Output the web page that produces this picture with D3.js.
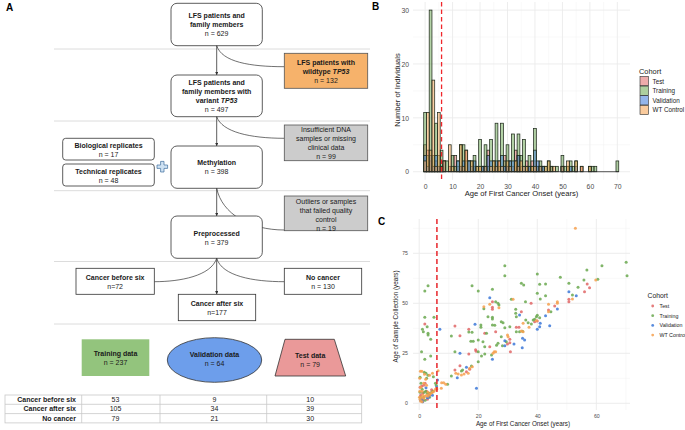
<!DOCTYPE html>
<html lang="en">
<head>
<meta charset="UTF-8">
<title>LFS cohort overview</title>
<script src="https://d3js.org/d3.v7.min.js"></script>
<style>
    body { margin: 0; background: #fff; font-family: "Liberation Sans", Arial, sans-serif; }
    .boxText { font-size: 7px; text-anchor: middle; fill: #1a1a1a; }
    .bold { font-weight: bold; }
    .panelLabel { font-size: 10px; font-weight: bold; }
    .tick text { fill: #4d4d4d; }
    .axisTitle { fill: #222; text-anchor: middle; }
</style>
</head>
<body>
<script>
const width = 685, height = 430;

// ---- data ----
const cohorts = ["Test", "Training", "Validation", "WT Control"];
const cohortColors = ["#e06666", "#6aa84f", "#3c78d8", "#f6a04d"];

// panel B: number of individuals per age of first cancer onset (ages 0..70)
const onsetAges = d3.range(0, 71);
const histTest = [5,4,2,1,2,1,1,0,0,1, 0,3,1,1,0,4,2,0,1,0, 1,1,0,4,0,1,0,2,0,3,
    1,0,1,4,3,1,0,2,1,2, 2,1,0,1,0,0,1,0,0,0, 1,0,1,0,0,0,0,1,0,0, 0,0,0,0,0,0,0,0,0,0,0];
const histTraining = [11,3,30,3,9,3,4,2,2,0, 3,1,2,5,5,2,2,2,3,1, 6,1,5,1,6,2,9,1,9,2,
    5,2,7,2,7,3,6,1,3,1, 8,1,2,1,1,2,1,0,1,0, 3,1,1,2,1,2,0,0,0,0, 1,1,1,0,0,0,0,0,0,0,2];
const histValidation = [3,1,3,1,3,1,1,2,0,0, 0,0,2,1,2,0,2,1,2,0, 0,1,1,3,2,0,2,0,3,1,
    1,2,2,0,3,0,1,0,1,0, 4,2,1,1,0,0,0,0,0,0, 1,0,0,1,0,1,0,0,0,0, 0,0,0,0,0,0,0,0,0,0,0];
const histWT = [2,11,4,17,1,11,1,2,0,5, 1,0,0,5,1,4,0,2,0,1, 1,0,1,0,1,2,1,2,1,0,
    2,1,0,2,1,2,1,1,0,1, 1,0,1,0,1,2,0,1,0,0, 1,0,2,0,0,2,0,1,0,0, 1,0,0,0,0,0,0,0,0,0,0];
const histTicksX = [0, 10, 20, 30, 40, 50, 60, 70];
const histTicksY = [0, 10, 20, 30];

// panel C: [age of first cancer onset, age of sample collection]
const scatterTest = [[1.9,39.7],[12.1,38.7],[13.8,33.8],[12.1,16.7],[13.8,18.8],[16,15.8],[17.1,17],
    [16.8,37],[16.8,24.7],[19.1,26.8],[19.3,26],[22.2,35],[24.8,50.8],[24.8,48],[24.8,47],[23.9,28.3],
    [25.9,35.8],[29.9,29.7],[30.7,32],[30.7,30.3],[30.9,25.8],[32.9,38],[33.8,38],[34.6,45.8],[39.1,40.8],
    [40,41.2],[37.9,50],[43.8,46.7],[45.9,48.7],[50.7,52],[50.7,50.8],[56,55.8],[56.9,59.7],[57.7,57.8],
    [0.3,8],[0.8,8.5],[1.5,9],[2,10],[1.2,5],[2.5,6],[3.5,4],[0.5,4],[4.2,6.8],[1.3,1.5],[2.8,2],[5.9,7]];
const scatterTraining = [[1.9,56.2],[3,58.8],[1.9,43],[5,43],[1.1,37],[1.4,35.8],[2.7,38.3],[3,35],[3,34.2],
    [3.9,32],[0.8,25.8],[1.9,22],[3.9,23.7],[0.3,13],[0.6,10],[1,7],[1.6,5.5],[2.2,6],[2.7,5],[3.2,5],[3.7,5],
    [4.2,5.5],[4.7,6],[1.7,15.5],[2.3,15],[3,14],[2.5,12.5],[4.8,13.3],[5.5,10],[0.4,3],[1.5,3],[2,1.5],
    [3.5,3],[5.8,9],[0.3,5.5],[9.6,9.5],[10.9,13.7],[10.9,33.7],[12.1,25.8],[14.3,16.2],[14.7,16.7],
    [17.7,18.7],[16.8,35.7],[17.9,35.5],[17.9,58.8],[17.5,31],[18.3,31],[20,56.2],[20,31.7],[20,25.8],
    [20,20.8],[20.9,39.2],[20.9,38],[21.1,23.7],[22.2,24.7],[22.8,35],[21.6,30.8],[22.2,28.3],[21.9,47.3],
    [23.3,43.3],[24.8,57],[24.8,43],[24.8,42.2],[24.8,39.2],[25.6,39],[25.9,50.8],[26.7,50],[27,49.2],
    [24.5,24.2],[26.2,29],[26.7,30],[27.8,40.8],[28.4,40.3],[29,68.8],[29,63.8],[29,37.8],[27.8,33.3],
    [28.2,28.8],[29.5,30.8],[30.7,38.3],[31.2,52],[32.7,47],[32.7,45],[32.9,43.3],[32.9,35.8],[34.6,60],
    [35.4,59.2],[36,50.8],[34,35.8],[36.1,41.7],[36.9,40.3],[38,39.7],[38.6,41.7],[39.1,42],[39.7,43.3],
    [40,44],[40,64.7],[40,55],[35,36],[40.8,59.5],[41,52.2],[42.8,59.7],[42.8,53.8],[40.8,42.8],[44.6,45.8],
    [47.8,63],[50.7,60],[51.9,54.2],[53.8,58],[55.8,61.7],[56.8,66.7],[60.5,62],[61.9,68.8],[70.1,70.5],[70.4,63.8]];
const scatterValidation = [[7,37],[13.8,25],[12.9,12.8],[16,18],[18.9,39.5],[19.4,7.5],[23.9,52.8],[24.8,22],
    [29,28.8],[29,31.3],[32.1,29.7],[34,44.2],[35,32.5],[35.7,31.7],[34.9,27.8],[40,37],[41,40],[40.8,38.3],
    [42.8,43.8],[44.2,38.8],[46.8,47.2],[50.7,55.8],[53.2,53.8],[0.5,1.5],[1.2,0.8],[2.8,2.8],[3.2,3.2],
    [4.5,4],[6.2,11.7],[2.3,7.8],[1,2],[5.9,8.2]];
const scatterWT = [[0.2,12.5],[0.4,16],[0.9,16],[1.5,10],[2.2,12],[2.5,9],[0.5,8],[1,6],[1.3,4],[0.3,2],
    [0.5,1],[0.8,3],[1.5,2.5],[2,3.5],[2.5,4],[3,3.5],[3.5,4.5],[4,5],[4.5,5.5],[5,6],[5.5,7],[4.5,15],
    [3.5,14],[1.8,14.5],[0.2,6],[0.1,3],[1,0.8],[3,5.5],[6.4,16.3],[5.9,7.5],[7.6,10.3],[8.3,10.3],[9,9.5],
    [7.5,7.5],[12.4,15],[13.2,14.7],[14.3,14.2],[15.2,14.7],[16.6,15],[17.1,17.5],[18,18.3],[21.9,48.3],
    [23.9,49.5],[27,47.8],[25,25],[25.4,25.8],[25.9,25.8],[29.9,34.2],[30.1,33.3],[31.8,52],[34.6,36.2],
    [35.2,35.8],[35.2,40],[37.2,38],[39.7,41.3],[43.8,49.5],[43.8,45.8],[46.8,50],[46.8,50.8],[51.9,52.2],
    [52.9,87.5],[59.8,61.7]];
const scatterTicksX = [0, 20, 40, 60];
const scatterTicksY = [0, 25, 50, 75];
const cutoffAge = 6;

// panel A: split of the three groups across the data sets
const tableRows = ["Cancer before six", "Cancer after six", "No cancer"];
const tableTraining = [53, 105, 79];
const tableValidation = [9, 34, 21];
const tableTest = [10, 39, 30];

const svg = d3.select("body").append("svg")
    .attr("width", width)
    .attr("height", height)
    .style("background", "#fff");

// ================= Panel A : flowchart =================
const A = svg.append("g");
A.append("text").attr("class", "panelLabel").attr("x", 6).attr("y", 11).text("A");

const defs = svg.append("defs");
defs.append("marker").attr("id", "arrow")
    .attr("viewBox", "0 0 6 6").attr("refX", 6).attr("refY", 3)
    .attr("markerWidth", 4).attr("markerHeight", 4).attr("orient", "auto")
  .append("path").attr("d", "M0,0 L6,3 L0,6 Z").attr("fill", "#333");

// separator lines
[49, 121, 190.7, 261.5, 324].forEach(y => {
    A.append("line").attr("x1", 54).attr("x2", 370).attr("y1", y).attr("y2", y)
        .attr("stroke", "#dcdcdc").attr("stroke-width", 1);
});

// lines: array of strings, or arrays of [text, style] parts
function boxText(cx, y0, lines, bold, step = 9) {
    lines.forEach((line, i) => {
        const t = A.append("text").attr("class", "boxText" + (bold && i < lines.length - 1 ? " bold" : ""))
            .attr("x", cx).attr("y", y0 + i * step);
        const parts = Array.isArray(line) ? line : [[line, ""]];
        parts.forEach(([s, st]) => {
            const ts = t.append("tspan").text(s);
            if (st === "i") ts.attr("font-style", "italic");
        });
    });
}

function createBox(x, y, w, h, lines, opts = {}) {
    A.append("rect").attr("x", x).attr("y", y).attr("width", w).attr("height", h)
        .attr("rx", opts.rx || 0)
        .attr("fill", opts.fill || "#fff")
        .attr("stroke", opts.stroke || "#333").attr("stroke-width", 0.8);
    boxText(x + w / 2, opts.textY || (y + h / 2 - (lines.length - 1) * 4.5 + 2.5), lines, opts.bold !== false, opts.step);
}

function arrow(x, y1, y2) {
    A.append("line").attr("x1", x).attr("x2", x).attr("y1", y1).attr("y2", y2)
        .attr("stroke", "#333").attr("stroke-width", 0.8).attr("marker-end", "url(#arrow)");
}
function curve(d) {
    A.append("path").attr("d", d).attr("fill", "none").attr("stroke", "#333").attr("stroke-width", 0.7);
}

const cx = 216.7;
createBox(171, 3.3, 91.3, 42.4, ["LFS patients and", "family members", "n = 629"], { rx: 6, textY: 18.2 });
curve("M216.7,45.7 C222,62 250,66.7 284.3,66.7");
arrow(cx, 45.7, 75);
A.append("rect").attr("x", 284.3).attr("y", 53.3).attr("width", 83.4).attr("height", 35)
    .attr("fill", "#f6b26b").attr("stroke", "#555").attr("stroke-width", 0.8);
boxText(326, 64.8, ["LFS patients with", [["wildtype ", ""], ["TP53", "i"]], "n = 132"], true);

createBox(171, 75, 91.3, 41.7, ["LFS patients and", "family members with", [["variant ", ""], ["TP53", "i"]], "n = 497"],
    { rx: 6, textY: 84.8 });
curve("M216.7,116.7 C222,132 250,138.3 284.3,138.3");
arrow(cx, 116.7, 146);
createBox(284.3, 125, 83.4, 35.7, ["Insufficient DNA", "samples or missing", "clinical data", "n = 99"],
    { fill: "#cccccc", stroke: "#555", bold: false, textY: 131.8, step: 9.1 });

createBox(62.7, 138.3, 91.6, 21.7, ["Biological replicates", "n = 17"], { rx: 3, textY: 147.5 });
createBox(62.7, 164, 91.6, 22, ["Technical replicates", "n = 48"], { rx: 3, textY: 173.5 });
// plus sign
A.append("path")
    .attr("d", "M160.6,161.4 h3.4 v3.6 h3.6 v3.4 h-3.6 v3.6 h-3.4 v-3.6 h-3.6 v-3.4 h3.6 Z")
    .attr("fill", "#cfe2f3").attr("stroke", "#3d6e9e").attr("stroke-width", 0.7);

createBox(171, 146, 91.3, 42.3, ["Methylation", "n = 398"], { rx: 6, textY: 165.2 });
curve("M216.7,188.3 C222,214 250,230 284.3,230");
arrow(cx, 188.3, 216);
createBox(284.3, 196, 83.4, 34.7, ["Outliers or samples", "that failed quality", "control", "n = 19"],
    { fill: "#cccccc", stroke: "#555", bold: false, textY: 203.5, step: 9 });

createBox(171, 216, 91.3, 42.3, ["Preprocessed", "n = 379"], { rx: 6, textY: 236.2 });
curve("M216.7,258.3 C211,276 180,281.7 154.3,281.7");
curve("M216.7,258.3 C222,276 253,281.7 284.3,281.7");
arrow(cx, 258.3, 294.3);
createBox(76, 268.3, 78.3, 26, ["Cancer before six", "n=72"], { textY: 279.8 });
createBox(284.3, 268.3, 77.4, 26, ["No cancer", "n = 130"], { textY: 279.8 });
createBox(178.3, 294.3, 77.4, 26.4, ["Cancer after six", "n=177"], { textY: 305.8 });

// data sets
const setCenters = [115.5, 214.5, 310.2];
A.append("rect").attr("x", 81.7).attr("y", 339.3).attr("width", 67.6).attr("height", 36.7).attr("fill", "#93c47d");
boxText(setCenters[0], 355.8, ["Training data", "n = 237"], true);
A.append("ellipse").attr("cx", setCenters[1]).attr("cy", 360).attr("rx", 47.2).attr("ry", 22.3)
    .attr("fill", "#6d9eeb").attr("stroke", "#333").attr("stroke-width", 0.8);
boxText(setCenters[1], 356.5, ["Validation data", "n = 64"], true);
A.append("path").attr("d", "M285,339.3 L334.3,339.3 L345.7,376 L275,376 Z")
    .attr("fill", "#ea9999").attr("stroke", "#333").attr("stroke-width", 0.8);
boxText(setCenters[2], 358.2, ["Test data", "n = 79"], true);

// table
const tableTop = 395, rowH = 9.3;
const colEdges = [5, 81.7, 160, 266.7, 361.7];
const tableCols = [tableTraining, tableValidation, tableTest];
A.append("rect").attr("x", colEdges[0]).attr("y", tableTop).attr("width", colEdges[4] - colEdges[0])
    .attr("height", rowH * 3).attr("fill", "none").attr("stroke", "#c8c8c8").attr("stroke-width", 0.8);
[1, 2].forEach(i => A.append("line").attr("x1", colEdges[0]).attr("x2", colEdges[4])
    .attr("y1", tableTop + i * rowH).attr("y2", tableTop + i * rowH).attr("stroke", "#c8c8c8").attr("stroke-width", 0.8));
[1, 2, 3].forEach(i => A.append("line").attr("x1", colEdges[i]).attr("x2", colEdges[i])
    .attr("y1", tableTop).attr("y2", tableTop + rowH * 3).attr("stroke", "#c8c8c8").attr("stroke-width", 0.8));
tableRows.forEach((r, i) => {
    const y = tableTop + i * rowH + 7;
    A.append("text").attr("class", "boxText bold").style("text-anchor", "end")
        .attr("x", 76).attr("y", y).text(r);
    tableCols.forEach((col, j) => {
        A.append("text").attr("class", "boxText").attr("x", setCenters[j]).attr("y", y).text(col[i]);
    });
});

// ================= Panel B : histogram =================
const B = svg.append("g");
B.append("text").attr("class", "panelLabel").attr("x", 372).attr("y", 10).text("B");

const xB = d3.scaleLinear().domain([-4.4, 74.6]).range([413, 630]);
const yB = d3.scaleLinear().domain([-1.5, 31.5]).range([179.8, 2]);

d3.range(5, 70, 10).forEach(v => B.append("line").attr("x1", xB(v)).attr("x2", xB(v)).attr("y1", 2).attr("y2", 179.8)
    .attr("stroke", "#f3f3f3").attr("stroke-width", 0.5));
[5, 15, 25].forEach(v => B.append("line").attr("x1", 413).attr("x2", 630).attr("y1", yB(v)).attr("y2", yB(v))
    .attr("stroke", "#f3f3f3").attr("stroke-width", 0.5));
histTicksX.forEach(v => B.append("line").attr("x1", xB(v)).attr("x2", xB(v)).attr("y1", 2).attr("y2", 179.8)
    .attr("stroke", "#ebebeb").attr("stroke-width", 0.9));
histTicksY.forEach(v => B.append("line").attr("x1", 413).attr("x2", 630).attr("y1", yB(v)).attr("y2", yB(v))
    .attr("stroke", "#ebebeb").attr("stroke-width", 0.9));

const histSeries = [histTest, histTraining, histValidation, histWT];
histSeries.forEach((series, k) => {
    B.append("g").selectAll("rect")
        .data(onsetAges.filter(a => series[a] > 0))
        .join("rect")
        .attr("x", a => xB(a - 0.5))
        .attr("width", a => xB(a + 0.5) - xB(a - 0.5))
        .attr("y", a => yB(series[a]))
        .attr("height", a => yB(0) - yB(series[a]))
        .attr("fill", cohortColors[k]).attr("fill-opacity", 0.5)
        .attr("stroke", "#1f2a1c").attr("stroke-width", 0.75);
});
B.append("line").attr("x1", xB(-0.5)).attr("x2", xB(70.5)).attr("y1", yB(0)).attr("y2", yB(0))
    .attr("stroke", "#2a2a2a").attr("stroke-width", 0.8);

B.append("line").attr("x1", xB(cutoffAge)).attr("x2", xB(cutoffAge)).attr("y1", 2).attr("y2", 179.8)
    .attr("stroke", "#f0262b").attr("stroke-width", 1.3).attr("stroke-dasharray", "4.5,3");

const axBx = B.append("g").attr("transform", "translate(0,179.8)")
    .call(d3.axisBottom(xB).tickValues(histTicksX).tickSize(0).tickPadding(4));
axBx.select(".domain").remove();
axBx.selectAll("text").attr("font-size", 6.8).attr("font-family", "Liberation Sans, Arial, sans-serif");
const axBy = B.append("g").attr("transform", "translate(413,0)")
    .call(d3.axisLeft(yB).tickValues(histTicksY).tickSize(0).tickPadding(4));
axBy.select(".domain").remove();
axBy.selectAll("text").attr("font-size", 6.8).attr("font-family", "Liberation Sans, Arial, sans-serif");

B.append("text").attr("class", "axisTitle").attr("font-size", 7.6).attr("x", 521.5).attr("y", 196)
    .text("Age of First Cancer Onset (years)");
B.append("text").attr("class", "axisTitle").attr("font-size", 7.6)
    .attr("transform", "translate(400,90) rotate(-90)").text("Number of Individuals");

B.append("text").attr("font-size", 7.4).attr("fill", "#222").attr("x", 639).attr("y", 73.5).text("Cohort");
cohorts.forEach((c, i) => {
    B.append("rect").attr("x", 640).attr("y", 76.5 + i * 9.6).attr("width", 8.4).attr("height", 9.2)
        .attr("fill", cohortColors[i]).attr("fill-opacity", 0.55)
        .attr("stroke", "#2a2a2a").attr("stroke-width", 0.6);
    B.append("text").attr("font-size", 6.3).attr("fill", "#222").attr("x", 652.5).attr("y", 83.5 + i * 9.6).text(c);
});

// ================= Panel C : scatter =================
const C = svg.append("g");
C.append("text").attr("class", "panelLabel").attr("x", 378).attr("y", 225).text("C");

const xC = d3.scaleLinear().domain([-2.1, 71.4]).range([413, 630]);
const yC = d3.scaleLinear().domain([-3.35, 92.15]).range([410, 219]);

[10, 30, 50, 70].forEach(v => C.append("line").attr("x1", xC(v)).attr("x2", xC(v)).attr("y1", 219).attr("y2", 410)
    .attr("stroke", "#f3f3f3").attr("stroke-width", 0.5));
[12.5, 37.5, 62.5, 87.5].forEach(v => C.append("line").attr("x1", 413).attr("x2", 630).attr("y1", yC(v)).attr("y2", yC(v))
    .attr("stroke", "#f3f3f3").attr("stroke-width", 0.5));
scatterTicksX.forEach(v => C.append("line").attr("x1", xC(v)).attr("x2", xC(v)).attr("y1", 219).attr("y2", 410)
    .attr("stroke", "#ebebeb").attr("stroke-width", 0.9));
scatterTicksY.forEach(v => C.append("line").attr("x1", 413).attr("x2", 630).attr("y1", yC(v)).attr("y2", yC(v))
    .attr("stroke", "#ebebeb").attr("stroke-width", 0.9));

const scatterSeries = [scatterTest, scatterTraining, scatterValidation, scatterWT];
scatterSeries.forEach((pts, k) => {
    C.append("g").selectAll("circle")
        .data(pts)
        .join("circle")
        .attr("cx", d => xC(d[0]))
        .attr("cy", d => yC(d[1]))
        .attr("r", 1.5)
        .attr("fill", cohortColors[k])
        .attr("fill-opacity", 0.85);
});

C.append("line").attr("x1", xC(cutoffAge)).attr("x2", xC(cutoffAge)).attr("y1", 219).attr("y2", 410)
    .attr("stroke", "#e8262b").attr("stroke-width", 1.5).attr("stroke-dasharray", "5,3");

const axCx = C.append("g").attr("transform", "translate(0,410)")
    .call(d3.axisBottom(xC).tickValues(scatterTicksX).tickSize(0).tickPadding(4));
axCx.select(".domain").remove();
axCx.selectAll("text").attr("font-size", 5.2).attr("font-family", "Liberation Sans, Arial, sans-serif");
const axCy = C.append("g").attr("transform", "translate(413,0)")
    .call(d3.axisLeft(yC).tickValues(scatterTicksY).tickSize(0).tickPadding(5));
axCy.select(".domain").remove();
axCy.selectAll("text").attr("font-size", 5.2).attr("font-family", "Liberation Sans, Arial, sans-serif");

C.append("text").attr("class", "axisTitle").attr("font-size", 6.3).attr("x", 523).attr("y", 426)
    .text("Age of First Cancer Onset (years)");
C.append("text").attr("class", "axisTitle").attr("font-size", 6.3)
    .attr("transform", "translate(397.5,316.5) rotate(-90)").text("Age of Sample Collection (years)");

C.append("text").attr("font-size", 6.8).attr("fill", "#222").attr("x", 647.5).attr("y", 298).text("Cohort");
cohorts.forEach((c, i) => {
    C.append("circle").attr("cx", 652.7).attr("cy", 306 + i * 9.7).attr("r", 1.4)
        .attr("fill", cohortColors[i]).attr("fill-opacity", 0.85);
    C.append("text").attr("font-size", 5.3).attr("fill", "#222").attr("x", 659.5).attr("y", 308 + i * 9.7).text(c);
});
</script>
</body>
</html>
